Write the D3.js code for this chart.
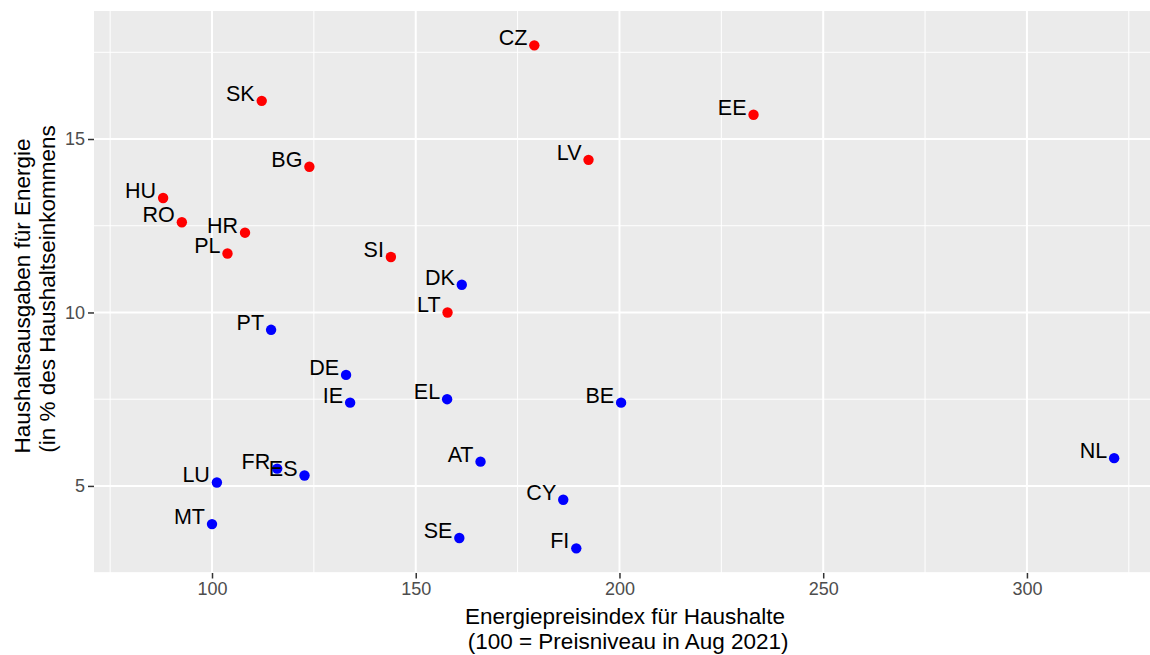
<!DOCTYPE html>
<html>
<head>
<meta charset="utf-8">
<script src="https://cdn.jsdelivr.net/npm/d3@7"></script>
<style>
  body { margin: 0; background: #fff; }
  text { font-family: "Liberation Sans", Arial, sans-serif; }
</style>
</head>
<body>
<svg id="chart" width="1150" height="655"></svg>
<script>
const countries = ['CZ', 'SK', 'EE', 'LV', 'BG', 'HU', 'RO', 'HR', 'PL', 'SI', 'DK', 'LT',
  'PT', 'DE', 'IE', 'EL', 'BE', 'AT', 'NL', 'CY', 'SE', 'FI', 'LU', 'MT', 'FR', 'ES'];
const priceIndex = [179.1, 112.2, 232.9, 192.4, 123.9, 88.0, 92.6, 108.1, 103.8, 143.9, 161.3, 157.8,
  114.5, 132.9, 133.9, 157.7, 200.4, 165.9, 321.4, 186.2, 160.7, 189.4, 101.2, 100.0, 116.0, 122.7];
const energyShare = [17.7, 16.1, 15.7, 14.4, 14.2, 13.3, 12.6, 12.3, 11.7, 11.6, 10.8, 10.0,
  9.5, 8.2, 7.4, 7.5, 7.4, 5.7, 5.8, 4.6, 3.5, 3.2, 5.1, 3.9, 5.5, 5.3];
// 1 = red group, 0 = blue group
const group = [1, 1, 1, 1, 1, 1, 1, 1, 1, 1, 0, 1,
  0, 0, 0, 0, 0, 0, 0, 0, 0, 0, 0, 0, 0, 0];

const xTicks = [100, 150, 200, 250, 300];
const xMinor = [75, 125, 175, 225, 275, 325];
const yTicks = [5, 10, 15];
const yMinor = [2.5, 7.5, 12.5, 17.5];

const COLORS = ['#0000FF', '#FF0000'];

const PANEL = { left: 94, right: 1150, top: 11, bottom: 573 };

const svg = d3.select('#chart');

const x = d3.scaleLinear().domain([71.04, 330.2]).range([PANEL.left, PANEL.right]);
const y = d3.scaleLinear().domain([2.49, 18.69]).range([PANEL.bottom, PANEL.top]);

// panel background
svg.append('rect')
  .attr('x', PANEL.left)
  .attr('y', PANEL.top)
  .attr('width', PANEL.right - PANEL.left)
  .attr('height', PANEL.bottom - PANEL.top)
  .attr('fill', '#EBEBEB');

const grid = svg.append('g').attr('stroke', '#fff');

grid.selectAll('.xminor').data(xMinor).join('line')
  .attr('x1', d => x(d)).attr('x2', d => x(d))
  .attr('y1', PANEL.top).attr('y2', PANEL.bottom)
  .attr('stroke-width', 1);
grid.selectAll('.yminor').data(yMinor).join('line')
  .attr('y1', d => y(d)).attr('y2', d => y(d))
  .attr('x1', PANEL.left).attr('x2', PANEL.right)
  .attr('stroke-width', 1);
grid.selectAll('.xmajor').data(xTicks).join('line')
  .attr('x1', d => x(d)).attr('x2', d => x(d))
  .attr('y1', PANEL.top).attr('y2', PANEL.bottom)
  .attr('stroke-width', 2);
grid.selectAll('.ymajor').data(yTicks).join('line')
  .attr('y1', d => y(d)).attr('y2', d => y(d))
  .attr('x1', PANEL.left).attr('x2', PANEL.right)
  .attr('stroke-width', 2);

// axes
const xAxis = d3.axisBottom(x).tickValues(xTicks).tickSize(5.5).tickPadding(4);
const yAxis = d3.axisLeft(y).tickValues(yTicks).tickSize(6).tickPadding(3);

svg.append('g')
  .attr('transform', `translate(0,${PANEL.bottom})`)
  .call(xAxis)
  .call(g => g.select('.domain').remove())
  .call(g => g.selectAll('line').attr('stroke', '#333333').attr('stroke-width', 1.5))
  .call(g => g.selectAll('text')
    .attr('fill', '#4D4D4D')
    .style('font-size', '18px')
    .attr('dy', '0.72em'));

svg.append('g')
  .attr('transform', `translate(${PANEL.left},0)`)
  .call(yAxis)
  .call(g => g.select('.domain').remove())
  .call(g => g.selectAll('line').attr('stroke', '#333333').attr('stroke-width', 1.5))
  .call(g => g.selectAll('text')
    .attr('fill', '#4D4D4D')
    .style('font-size', '18px'));

// points
const points = countries.map((c, i) => ({
  name: c, px: priceIndex[i], share: energyShare[i], grp: group[i]
}));

svg.append('g').selectAll('circle')
  .data(points)
  .join('circle')
  .attr('cx', d => x(d.px))
  .attr('cy', d => y(d.share))
  .attr('r', 5.2)
  .attr('fill', d => COLORS[d.grp]);

svg.append('g').selectAll('text')
  .data(points)
  .join('text')
  .attr('x', d => x(d.px) - 7)
  .attr('y', d => y(d.share))
  .attr('text-anchor', 'end')
  .style('font-size', '21.5px')
  .attr('fill', '#000')
  .text(d => d.name);

// axis titles
const xTitle = svg.append('text')
  .attr('text-anchor', 'middle')
  .style('font-size', '22.5px')
  .style('white-space', 'pre')
  .attr('fill', '#000');
xTitle.append('tspan')
  .attr('x', (PANEL.left + PANEL.right) / 2 + 3)
  .attr('y', 624)
  .text('Energiepreisindex für Haushalte');
xTitle.append('tspan')
  .attr('x', (PANEL.left + PANEL.right) / 2 + 3)
  .attr('y', 649)
  .text(' (100 = Preisniveau in Aug 2021)');

const yMid = (PANEL.top + PANEL.bottom) / 2;
const yTitle = svg.append('text')
  .attr('text-anchor', 'middle')
  .attr('transform', `translate(0,${yMid}) rotate(-90)`)
  .style('font-size', '22.5px')
  .attr('fill', '#000');
yTitle.append('tspan')
  .attr('x', -4)
  .attr('y', 30)
  .text('Haushaltsausgaben für Energie');
yTitle.append('tspan')
  .attr('x', 3)
  .attr('y', 55)
  .text('(in % des Haushaltseinkommens');
</script>
</body>
</html>
